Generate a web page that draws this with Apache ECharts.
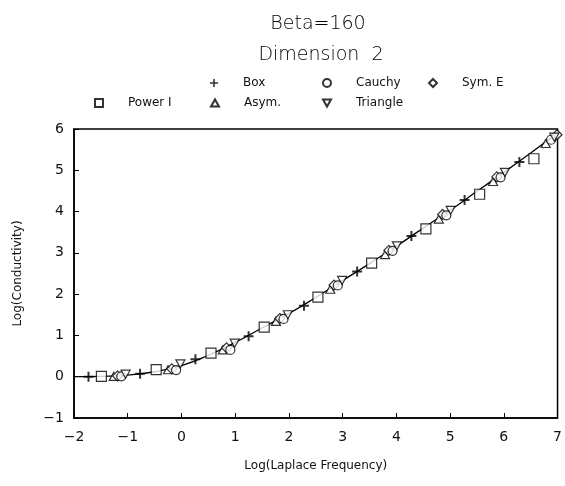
<!DOCTYPE html>
<html>
<head>
<meta charset="utf-8">
<script src="https://cdn.jsdelivr.net/npm/echarts@6/dist/echarts.min.js"></script>
<style>html,body{margin:0;padding:0;background:#fff}#c{width:565px;height:486px}</style>
</head>
<body>
<div id="c"></div>
<script>
// Tick range
var xTicks = [-2, -1, 0, 1, 2, 3, 4, 5, 6, 7];
var yTicks = [-1, 0, 1, 2, 3, 4, 5, 6];

// Fitted curve
var curveX = [-2, -1.5, -1, -0.5, 0, 0.5, 1, 1.5, 2, 2.5, 3, 3.5, 4, 4.5, 5, 5.5, 6, 6.5, 7];
var curveY = [0, 0.01, 0.04, 0.12, 0.27, 0.52, 0.83, 1.18, 1.53, 1.92, 2.33, 2.74, 3.16, 3.6, 4.03, 4.49, 4.95, 5.42, 5.9];

// Series: Box
var boxX = [-1.73, -0.77, 0.26, 1.25, 2.28, 3.27, 4.28, 5.27, 6.29];
var boxY = [0.0, 0.07, 0.42, 0.98, 1.72, 2.55, 3.41, 4.28, 5.20];
// Power I
var powX = [-1.49, -0.47, 0.55, 1.54, 2.54, 3.54, 4.55, 5.55, 6.56];
var powY = [0.01, 0.17, 0.57, 1.2, 1.93, 2.75, 3.58, 4.42, 5.28];
// Asym.
var asyX = [-1.26, -0.25, 0.77, 1.76, 2.77, 3.79, 4.79, 5.8, 6.78];
var asyY = [0.01, 0.17, 0.65, 1.34, 2.12, 2.96, 3.82, 4.73, 5.65];
// Sym. E
var symX = [-1.19, -0.18, 0.84, 1.83, 2.84, 3.86, 4.86, 5.87, 6.99];
var symY = [0.02, 0.19, 0.7, 1.41, 2.22, 3.06, 3.93, 4.84, 5.86];
// Cauchy
var cauX = [-1.12, -0.1, 0.91, 1.9, 2.91, 3.93, 4.93, 5.94, 6.88];
var cauY = [0.01, 0.16, 0.65, 1.4, 2.21, 3.05, 3.91, 4.83, 5.74];
// Triangle
var triX = [-1.04, -0.02, 0.99, 1.98, 2.99, 4.01, 5.01, 6.02, 6.94];
var triY = [0.06, 0.31, 0.81, 1.5, 2.33, 3.17, 4.03, 4.95, 5.8];

function pts(xs, ys) { return xs.map(function (x, i) { return [x, ys[i]]; }); }

var FONT = 'DejaVu Sans';
var plusPath = 'path://M4,0h2v4h4v2h-4v4h-2v-4h-4v-2h4z';
var downTri = 'path://M0,0L10,0L5,9Z';
var upTri = 'path://M5,0L10,9L0,9Z';
var squareP = 'path://M0,0L10,0L10,10L0,10Z';
var diamondP = 'path://M5,0L10,5L5,10L0,5Z';

function sc(name, data, symbol, size, filled) {
  return {
    type: 'scatter', name: name, data: data, symbol: symbol, symbolSize: size,
    symbolKeepAspect: true,
    itemStyle: filled ? { color: '#000', borderWidth: 0 } : { color: '#fff', borderColor: '#000', borderWidth: 1.2 },
    z: 3, animation: false
  };
}

function lg(name, left, top) {
  return {
    data: [name], left: left, top: top, itemWidth: 8, itemHeight: 8, itemGap: 0,
    selectedMode: false, padding: 0, symbolKeepAspect: true,
    textStyle: { fontFamily: FONT, fontSize: 12, color: '#111', padding: [0, 0, 0, 20] }
  };
}

function minus(v) { return String(v).replace('-', '\u2212'); }

var chart = echarts.init(document.getElementById('c'), null, { renderer: 'canvas' });
chart.setOption({
  backgroundColor: '#fff',
  animation: false,
  title: [
    { text: 'Beta=160', left: 313, top: 10, textAlign: 'center', textStyle: { fontFamily: FONT, fontSize: 19, fontWeight: 200, color: '#000' } },
    { text: 'Dimension  2', left: 316, top: 41, textAlign: 'center', textStyle: { fontFamily: FONT, fontSize: 19, fontWeight: 200, color: '#000' } }
  ],
  legend: [
    lg('Box', 210, 77), lg('Cauchy', 322, 77), lg('Sym. E', 428, 77),
    lg('Power I', 94, 97), lg('Asym.', 210, 97), lg('Triangle', 322, 97)
  ],
  grid: { left: 74, right: 7, top: 129, bottom: 68, show: true, borderColor: '#000', borderWidth: 1.5, backgroundColor: '#fff' },
  xAxis: {
    type: 'value', min: xTicks[0], max: xTicks[xTicks.length - 1], interval: 1,
    name: 'Log(Laplace Frequency)', nameLocation: 'middle', nameGap: 42,
    nameTextStyle: { fontFamily: FONT, fontSize: 12, color: '#111' },
    axisLine: { show: true, onZero: false, lineStyle: { color: '#000', width: 1.5 } },
    axisTick: { show: true, inside: true, length: 5, lineStyle: { color: '#000' } },
    axisLabel: { fontFamily: FONT, fontSize: 14, color: '#111', margin: 12, formatter: minus },
    splitLine: { show: false }
  },
  yAxis: {
    type: 'value', min: yTicks[0], max: yTicks[yTicks.length - 1], interval: 1,
    name: 'Log(Conductivity)', nameLocation: 'middle', nameGap: 50,
    nameTextStyle: { fontFamily: FONT, fontSize: 12, color: '#111' },
    axisLine: { show: true, onZero: false, lineStyle: { color: '#000', width: 1.5 } },
    axisTick: { show: true, inside: true, length: 5, lineStyle: { color: '#000' } },
    axisLabel: { fontFamily: FONT, fontSize: 14, color: '#111', margin: 10, formatter: minus },
    splitLine: { show: false }
  },
  series: [
    { type: 'line', name: 'curve', data: pts(curveX, curveY), showSymbol: false, smooth: true,
      lineStyle: { color: '#000', width: 1.3 }, z: 2, animation: false },
    sc('Box', pts(boxX, boxY), plusPath, 10, true),
    sc('Power I', pts(powX, powY), squareP, 10, false),
    sc('Asym.', pts(asyX, asyY), upTri, 9, false),
    sc('Sym. E', pts(symX, symY), diamondP, 10, false),
    sc('Cauchy', pts(cauX, cauY), 'circle', 9, false),
    sc('Triangle', pts(triX, triY), downTri, 9, false)
  ]
});
</script>
</body>
</html>
